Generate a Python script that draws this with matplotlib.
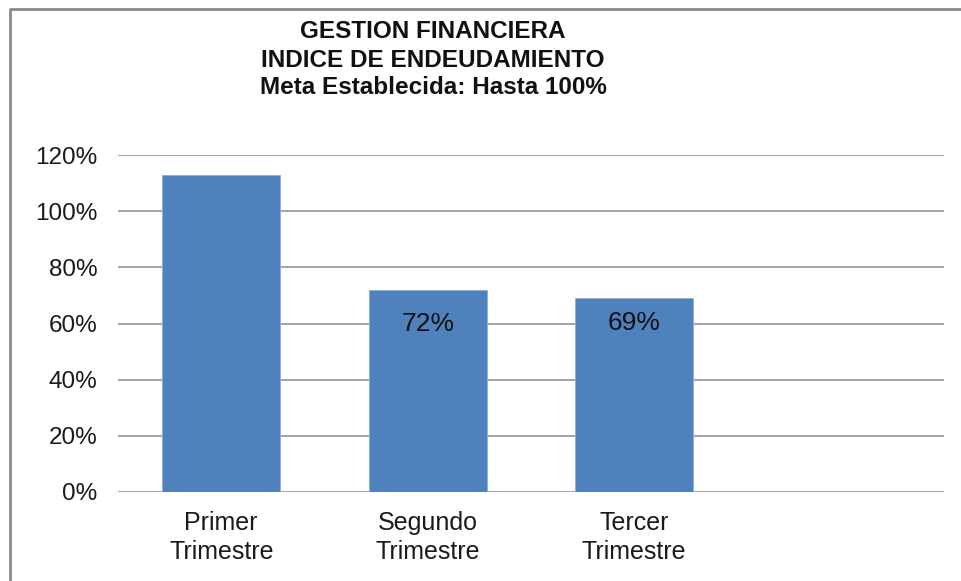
import matplotlib
matplotlib.use("Agg")
import matplotlib.pyplot as plt
from matplotlib.lines import Line2D

categories = ["Primer\nTrimestre", "Segundo\nTrimestre", "Tercer\nTrimestre", ""]
values = [113, 72, 69, None]
data_labels = ["", "72%", "69%", ""]
yticks = [0, 20, 40, 60, 80, 100, 120]
ytick_labels = ["0%", "20%", "40%", "60%", "80%", "100%", "120%"]
title_lines = ["GESTION FINANCIERA", "INDICE DE ENDEUDAMIENTO", "Meta Establecida: Hasta 100%"]

plt.rcParams['font.family'] = ['Liberation Sans', 'DejaVu Sans']

W, H = 961, 581
fig = plt.figure(figsize=(W / 100, H / 100), dpi=100)
fig.patch.set_facecolor("white")

ax = fig.add_axes([118 / W, 1 - 492 / H, (944 - 118) / W, (492 - 155) / H])
xs = [i for i, v in enumerate(values) if v is not None]
vs = [v for v in values if v is not None]
ax.bar(xs, vs, width=0.57, color="#4F81BD", edgecolor="#8FADD6", linewidth=0.6, zorder=3)

ax.set_xlim(-0.5, len(categories) - 0.5)
ax.set_ylim(0, 120)
ax.set_yticks(yticks)
ax.set_yticklabels(ytick_labels, fontsize=17.5, color="#1a1a1a")
ax.set_xticks(range(len(categories)))
ax.set_xticklabels(categories, fontsize=18, color="#1a1a1a", linespacing=1.22)
ax.tick_params(axis="y", length=0, pad=15)
ax.tick_params(axis="x", length=0, pad=14)
ax.grid(axis="y", color="#8c8c8c", linewidth=1.1, zorder=0)
for s in ax.spines.values():
    s.set_visible(False)
ax.set_facecolor("white")

label_offsets = [0, -16, -9.5, 0]
for x, v, lab in zip(xs, vs, data_labels):
    if lab:
        ax.annotate(lab, (x, v), xytext=(0, label_offsets[x]), textcoords="offset points",
                    ha="center", va="top", fontsize=19, color="#111111", zorder=4)

# title lines (baselines in pixels from top)
baselines = [38, 67, 94]
for line, b in zip(title_lines, baselines):
    fig.text(433 / W, 1 - b / H, line, ha="center", va="baseline",
             fontsize=17.5, fontweight="bold", color="#111111")

# outer border (left and top)
fig.add_artist(Line2D([10 / W, 10 / W, 1.0], [0.0, 1 - 9 / H, 1 - 9 / H],
                      transform=fig.transFigure, color="#8a8a8a", linewidth=2))

fig.savefig("out.png", dpi=100, facecolor="white")
